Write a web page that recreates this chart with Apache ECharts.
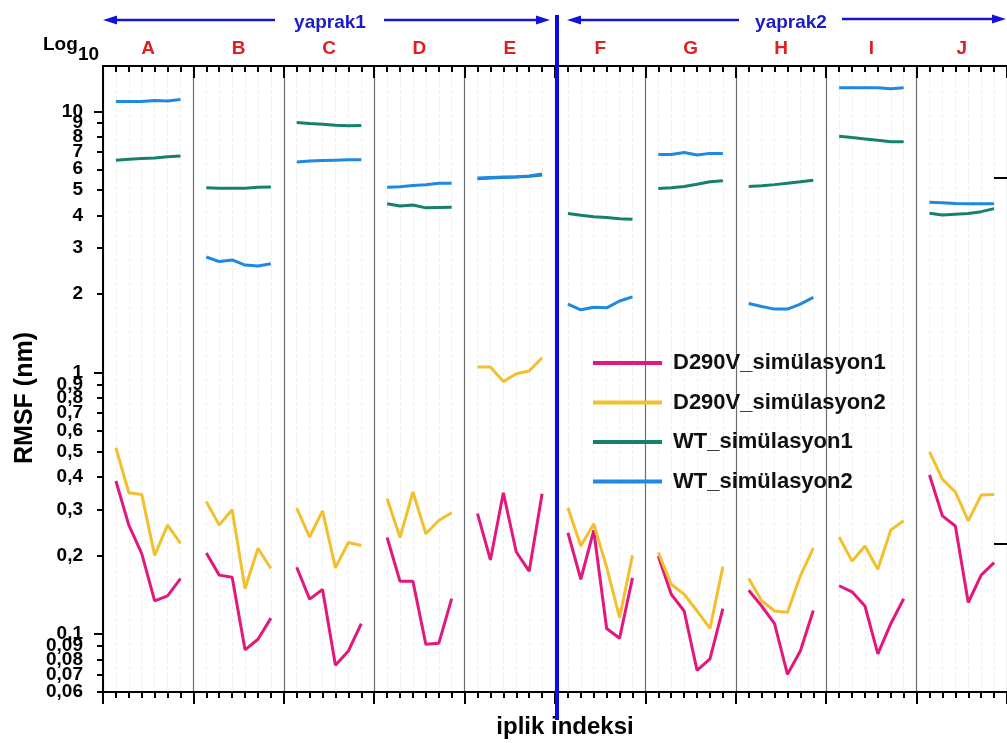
<!DOCTYPE html>
<html><head><meta charset="utf-8">
<script src="https://cdn.jsdelivr.net/npm/echarts@6/dist/echarts.min.js"></script>
<style>html,body{margin:0;padding:0;background:#fff}#c{width:1007px;height:743px}</style>
</head><body><div id="c"></div>
<script>
// ---------- data ----------
const panels = ['A','B','C','D','E','F','G','H','I','J'];
const seriesNames = ['D290V_simülasyon1','D290V_simülasyon2','WT_simülasyon1','WT_simülasyon2'];
const d290vSim1 = [
  [0.385, 0.261, 0.203, 0.134, 0.140, 0.163],
  [0.204, 0.168, 0.165, 0.087, 0.0955, 0.115],
  [0.180, 0.136, 0.148, 0.0759, 0.0861, 0.1095],
  [0.234, 0.159, 0.159, 0.0913, 0.0921, 0.1365],
  [0.289, 0.192, 0.347, 0.206, 0.174, 0.344],
  [0.244, 0.162, 0.249, 0.105, 0.0963, 0.164],
  [0.199, 0.142, 0.1225, 0.0726, 0.0804, 0.125],
  [0.147, 0.128, 0.1095, 0.0701, 0.0861, 0.123],
  [0.153, 0.145, 0.128, 0.084, 0.1095, 0.1365],
  [0.406, 0.283, 0.259, 0.132, 0.168, 0.1875]
];
const d290vSim2 = [
  [0.516, 0.347, 0.342, 0.200, 0.261, 0.222],
  [0.321, 0.261, 0.299, 0.149, 0.213, 0.178],
  [0.303, 0.235, 0.296, 0.179, 0.224, 0.218],
  [0.330, 0.234, 0.350, 0.242, 0.272, 0.291],
  [1.05, 1.05, 0.924, 0.991, 1.015, 1.14],
  [0.304, 0.217, 0.264, 0.18, 0.1155, 0.200],
  [0.205, 0.155, 0.142, 0.1225, 0.105, 0.181],
  [0.163, 0.134, 0.1225, 0.121, 0.167, 0.213],
  [0.235, 0.190, 0.217, 0.177, 0.250, 0.271],
  [0.498, 0.391, 0.350, 0.271, 0.340, 0.342]
];
const wtSim1 = [
  [6.5, 6.55, 6.6, 6.62, 6.7, 6.75],
  [5.1, 5.08, 5.08, 5.08, 5.12, 5.13],
  [9.05, 8.98, 8.92, 8.85, 8.8, 8.82],
  [4.43, 4.34, 4.38, 4.27, 4.28, 4.29],
  [5.52, 5.55, 5.58, 5.6, 5.64, 5.7],
  [4.06, 4.0, 3.95, 3.92, 3.88, 3.86],
  [5.06, 5.10, 5.15, 5.26, 5.37, 5.42],
  [5.15, 5.19, 5.24, 5.30, 5.37, 5.45],
  [8.03, 7.93, 7.84, 7.74, 7.65, 7.65],
  [4.07, 4.01, 4.04, 4.06, 4.13, 4.24]
];
const wtSim2 = [
  [10.9, 10.9, 10.9, 11.0, 10.95, 11.1],
  [2.77, 2.66, 2.70, 2.58, 2.56, 2.61],
  [6.4, 6.45, 6.48, 6.5, 6.52, 6.52],
  [5.12, 5.14, 5.2, 5.23, 5.3, 5.3],
  [5.55, 5.58, 5.6, 5.62, 5.66, 5.75],
  [1.83, 1.74, 1.78, 1.77, 1.88, 1.95],
  [6.83, 6.83, 6.95, 6.8, 6.9, 6.9],
  [1.84, 1.79, 1.75, 1.75, 1.83, 1.94],
  [12.3, 12.3, 12.3, 12.3, 12.2, 12.3],
  [4.49, 4.47, 4.44, 4.43, 4.43, 4.43]
];
const yTickValues = [0.06,0.07,0.08,0.09,0.1,0.2,0.3,0.4,0.5,0.6,0.7,0.8,0.9,1,2,3,4,5,6,7,8,9,10];
const yTickLabels = ['0,06','0,07','0,08','0,09','0,1','0,2','0,3','0,4','0,5','0,6','0,7','0,8','0,9','1','2','3','4','5','6','7','8','9','10'];
const yMajorTicks = [0.1, 1, 10];
const rightTicks = [0.221, 5.58];
const yMin = 0.06, yMax = 14.9;
const slotsPerPanel = 7;

// ---------- build ----------
const FONT = "'Liberation Sans', Arial, Helvetica, sans-serif";
const colors = ['#e3187c', '#f2c02e', '#17806d', '#1f88e2'];
const allData = [d290vSim1, d290vSim2, wtSim1, wtSim2];

function buildSeriesData(arr) {
  const out = [];
  arr.forEach((vals, p) => {
    vals.forEach((v, k) => out.push([p * slotsPerPanel + k + 1, v]));
    out.push([p * slotsPerPanel + slotsPerPanel, null]);
  });
  return out;
}
const L = Math.log10;
const logTicks = yTickValues.map(L);
function yLabel(val) {
  for (let i = 0; i < logTicks.length; i++) if (Math.abs(logTicks[i] - val) < 1e-6) return yTickLabels[i];
  return '';
}
const evenTicks = logTicks.filter((v, i) => i % 2 === 0);
const oddTicks = logTicks.filter((v, i) => i % 2 === 1);
const xMax = panels.length * slotsPerPanel;

const labelStyle = {show: true, formatter: yLabel, margin: 20,
  showMinLabel: true, showMaxLabel: true, hideOverlap: false,
  color: '#000', fontSize: 19, fontWeight: 'bold', fontFamily: FONT};

const chart = echarts.init(document.getElementById('c'), null, {renderer: 'canvas'});
const option = {
  animation: false,
  backgroundColor: '#fff',
  textStyle: {fontFamily: FONT},
  grid: {left: 103, width: 910, top: 66, bottom: 51, containLabel: false},
  legend: {
    orient: 'vertical', left: 593, top: 351, padding: 0,
    icon: 'rect', itemWidth: 69, itemHeight: 4, itemGap: 15.5,
    textStyle: {fontSize: 22, fontWeight: 'bold', color: '#111', fontFamily: FONT, lineHeight: 24, padding: [0,0,0,6]},
    data: seriesNames
  },
  xAxis: [
    { // bottom
      type: 'value', min: 0, max: xMax, interval: slotsPerPanel, position: 'bottom',
      axisLine: {show: true, onZero: false, lineStyle: {color: '#000', width: 2}},
      axisTick: {show: true, inside: false, length: 12, lineStyle: {color: '#000', width: 2}},
      minorTick: {show: true, splitNumber: slotsPerPanel, length: 6, lineStyle: {color: '#000', width: 2}},
      axisLabel: {show: false},
      splitLine: {show: true, lineStyle: {color: '#6e6e6e', width: 1.2}},
      minorSplitLine: {show: true, lineStyle: {color: '#efefef', width: 1, type: 'dashed'}}
    },
    { // top ticks
      type: 'value', min: 0, max: xMax, interval: slotsPerPanel, position: 'top',
      axisLine: {show: true, onZero: false, lineStyle: {color: '#000', width: 2}},
      axisTick: {show: true, inside: true, length: 12, lineStyle: {color: '#000', width: 2}},
      minorTick: {show: true, splitNumber: slotsPerPanel, length: 6, lineStyle: {color: '#000', width: 2}},
      axisLabel: {show: false}, splitLine: {show: false}
    },
    { // top panel letters
      type: 'category', data: panels, position: 'top', boundaryGap: true,
      axisLine: {show: false, onZero: false}, axisTick: {show: false},
      axisLabel: {show: true, interval: 0, margin: 8, color: '#e0201f', fontSize: 19, fontWeight: 'bold', fontFamily: FONT},
      splitLine: {show: false}
    }
  ],
  yAxis: [
    { // data scale (log)
      type: 'log', logBase: 10, min: yMin, max: yMax, position: 'left',
      axisLine: {show: false, onZero: false}, axisTick: {show: false}, axisLabel: {show: false},
      splitLine: {show: false}, minorTick: {show: false}
    },
    { // left axis line, ticks and even labels (log space)
      type: 'value', min: L(yMin), max: L(yMax), position: 'left',
      axisLine: {show: true, onZero: false, lineStyle: {color: '#000', width: 2}},
      axisTick: {show: true, inside: false, length: 6, customValues: logTicks, lineStyle: {color: '#000', width: 2}},
      axisLabel: Object.assign({customValues: evenTicks}, labelStyle),
      splitLine: {show: false}
    },
    { // right edge ticks
      type: 'value', min: L(yMin), max: L(yMax), position: 'right',
      axisLine: {show: false, onZero: false},
      axisTick: {show: true, inside: true, length: 13, customValues: rightTicks.map(L), lineStyle: {color: '#000', width: 2}},
      axisLabel: {show: false}, splitLine: {show: false}
    },
    { // major left ticks
      type: 'value', min: L(yMin), max: L(yMax), position: 'left',
      axisLine: {show: false, onZero: false},
      axisTick: {show: true, inside: false, length: 9, customValues: yMajorTicks.map(L), lineStyle: {color: '#000', width: 2}},
      axisLabel: {show: false}, splitLine: {show: false}
    },
    { // odd labels
      type: 'value', min: L(yMin), max: L(yMax), position: 'left',
      axisLine: {show: false, onZero: false},
      axisTick: {show: false},
      axisLabel: Object.assign({customValues: oddTicks}, labelStyle),
      splitLine: {show: false}
    }
  ],
  series: allData.map((arr, i) => ({
    name: seriesNames[i], type: 'line', xAxisIndex: 0, yAxisIndex: 0,
    data: buildSeriesData(arr), showSymbol: false, symbol: 'none', connectNulls: false,
    color: colors[i], lineStyle: {color: colors[i], width: 3}, emphasis: {disabled: true}, z: 3 + i
  })),
  graphic: [
    // Log10 label
    {type: 'text', x: 43, y: 45, style: {text: 'Log', font: 'bold 19px ' + FONT, fill: '#000', align: 'left', verticalAlign: 'middle'}},
    {type: 'text', x: 78, y: 55, style: {text: '10', font: 'bold 19px ' + FONT, fill: '#000', align: 'left', verticalAlign: 'middle'}},
    // axis titles
    {type: 'text', x: 25, y: 398, rotation: Math.PI / 2, style: {text: 'RMSF (nm)', font: 'bold 25px ' + FONT, fill: '#000', align: 'center', verticalAlign: 'middle'}},
    {type: 'text', x: 565, y: 727, style: {text: 'iplik indeksi', font: 'bold 24px ' + FONT, fill: '#000', align: 'center', verticalAlign: 'middle'}},
    // blue divider
    {type: 'line', shape: {x1: 557, y1: 15, x2: 557, y2: 720}, style: {stroke: '#0b0be6', lineWidth: 4}, z: 100},
    // yaprak1
    {type: 'text', x: 330, y: 23, style: {text: 'yaprak1', font: 'bold 19px ' + FONT, fill: '#1c1cc4', align: 'center', verticalAlign: 'middle'}},
    {type: 'line', shape: {x1: 112, y1: 20, x2: 275, y2: 20}, style: {stroke: '#1414d8', lineWidth: 2.5}},
    {type: 'polygon', shape: {points: [[103, 20], [117, 15.5], [117, 24.5]]}, style: {fill: '#1414d8'}},
    {type: 'line', shape: {x1: 384, y1: 20, x2: 540, y2: 20}, style: {stroke: '#1414d8', lineWidth: 2.5}},
    {type: 'polygon', shape: {points: [[550, 20], [536, 15.5], [536, 24.5]]}, style: {fill: '#1414d8'}},
    // yaprak2
    {type: 'text', x: 791, y: 23, style: {text: 'yaprak2', font: 'bold 19px ' + FONT, fill: '#1c1cc4', align: 'center', verticalAlign: 'middle'}},
    {type: 'line', shape: {x1: 577, y1: 20, x2: 739, y2: 20}, style: {stroke: '#1414d8', lineWidth: 2.5}},
    {type: 'polygon', shape: {points: [[567, 20], [581, 15.5], [581, 24.5]]}, style: {fill: '#1414d8'}},
    {type: 'line', shape: {x1: 842, y1: 19, x2: 995, y2: 19}, style: {stroke: '#1414d8', lineWidth: 2.5}},
    {type: 'polygon', shape: {points: [[1006, 19], [992, 14.5], [992, 23.5]]}, style: {fill: '#1414d8'}}
  ]
};
chart.setOption(option);
</script>
</body></html>
